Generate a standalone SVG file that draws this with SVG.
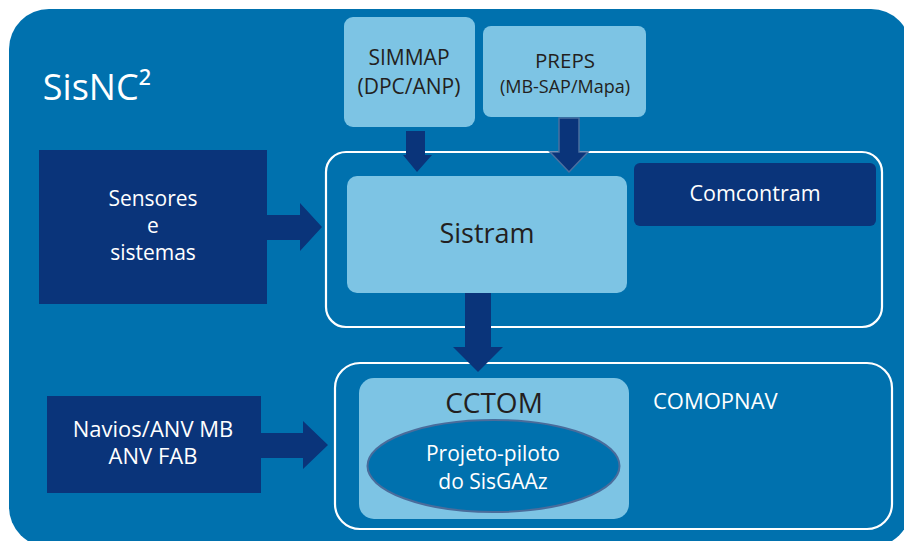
<svg xmlns="http://www.w3.org/2000/svg" width="904" height="541" viewBox="0 0 904 541">
<style>
text{font-family:"Open Sans","Noto Sans","Liberation Sans",sans-serif;text-anchor:middle}
.light{fill:#7DC4E4}
.dark{fill:#0A347A}
.frame{fill:none;stroke:#FFFFFF;stroke-width:2.2}
.tw{fill:#FFFFFF}
.tk{fill:#231F20}
.arrow{fill:#0A347A}
</style>
<rect width="904" height="541" fill="#FFFFFF"/>
<g id="sisnc2">
<rect x="9" y="9" width="902" height="538" rx="40" fill="#0071AE"/>
<text x="97" y="100" class="tw" font-size="36">SisNC²</text>
</g>
<g id="sistram-group">
<rect x="326" y="152" width="556" height="175" rx="20" class="frame"/>
</g>
<g id="comopnav">
<rect x="335" y="363" width="557" height="166" rx="25" class="frame"/>
<text x="653" y="409" class="tw" font-size="22" style="text-anchor:start">COMOPNAV</text>
</g>
<g id="simmap">
<rect x="344" y="17" width="131" height="110" rx="9" class="light"/>
<text x="409" y="65" class="tk" font-size="21">SIMMAP</text>
<text x="409" y="94" class="tk" font-size="21">(DPC/ANP)</text>
</g>
<g id="preps">
<rect x="483" y="26" width="163" height="91" rx="8" class="light"/>
<text x="565" y="68" class="tk" font-size="20.5">PREPS</text>
<text x="565" y="93" class="tk" font-size="18">(MB-SAP/Mapa)</text>
</g>
<g id="sensores">
<rect x="39" y="150" width="228" height="154" class="dark"/>
<text x="153" y="206" class="tw" font-size="21">Sensores</text>
<text x="153" y="233" class="tw" font-size="21">e</text>
<text x="153" y="260" class="tw" font-size="21">sistemas</text>
</g>
<g id="sistram">
<rect x="347" y="176" width="280" height="117" rx="10" class="light"/>
<text x="487" y="243" class="tk" font-size="27">Sistram</text>
</g>
<g id="comcontram">
<rect x="634" y="163" width="242" height="63" rx="6" class="dark"/>
<text x="755" y="201" class="tw" font-size="21.5">Comcontram</text>
</g>
<g id="navios">
<rect x="47" y="396" width="214" height="97" class="dark"/>
<text x="153" y="437" class="tw" font-size="22">Navios/ANV MB</text>
<text x="153" y="464" class="tw" font-size="22">ANV FAB</text>
</g>
<g id="cctom">
<rect x="359" y="378" width="270" height="141" rx="15" class="light"/>
<text x="494" y="413" class="tk" font-size="28">CCTOM</text>
</g>
<g id="projeto-piloto">
<ellipse cx="493.5" cy="466" rx="126" ry="46" fill="#0071AE" stroke="#4A6C9B" stroke-width="2"/>
<text x="493" y="461" class="tw" font-size="21">Projeto-piloto</text>
<text x="493" y="489" class="tw" font-size="21">do SisGAAz</text>
</g>
<g id="connectors">
<polygon class="arrow" points="406,131 425,131 425,155 432,155 417,172 403,155 406,155"/>
<polygon class="arrow" stroke="#4A6FA0" stroke-width="1.5" points="559,118 579,118 579,152 588,152 569,172 550,152 559,152"/>
<polygon class="arrow" points="267,215 300,215 300,203 322,227 300,251 300,240 267,240"/>
<polygon class="arrow" points="465,293 491,293 491,347 503,347 478,372 453,347 465,347"/>
<polygon class="arrow" points="261,433 303,433 303,421 328,445 303,469 303,458 261,458"/>
</g>
</svg>
